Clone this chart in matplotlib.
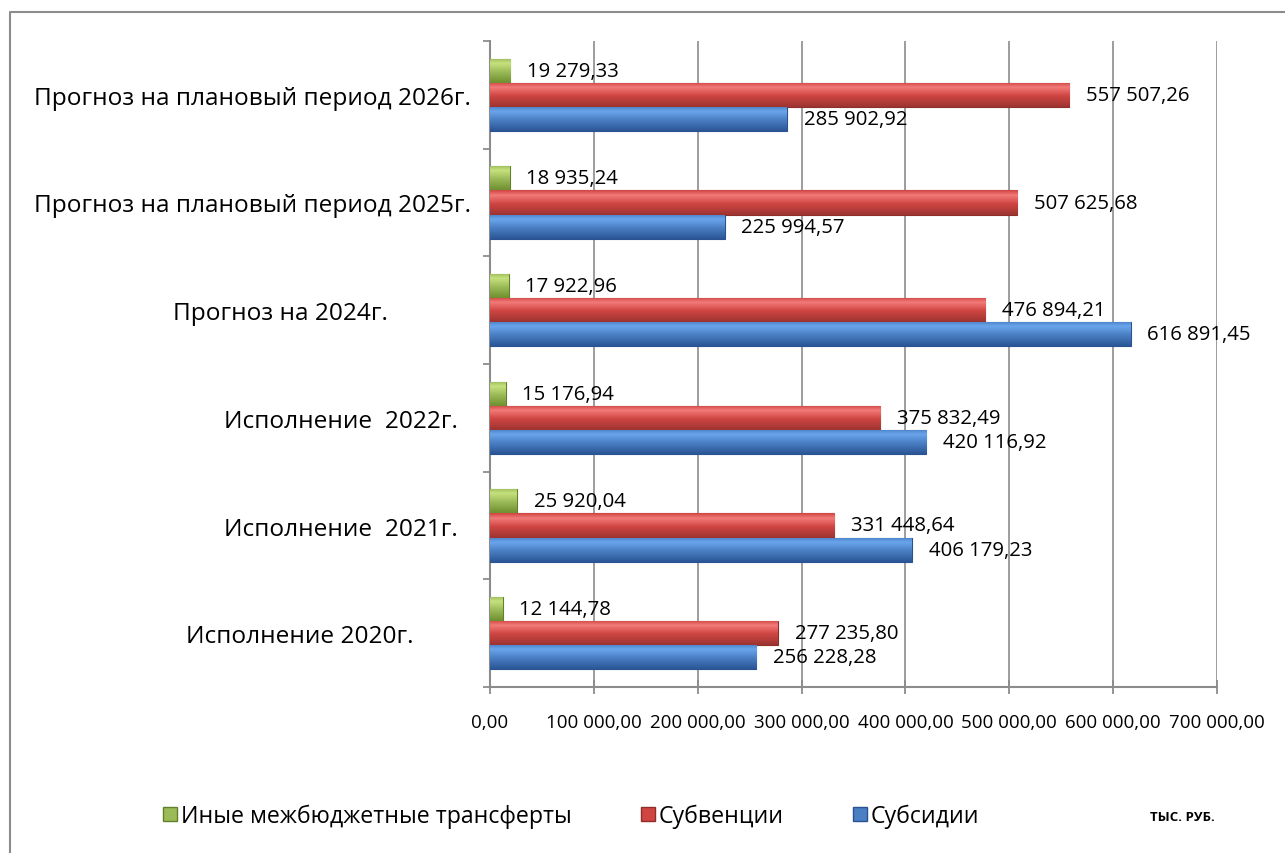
import numpy as np
import matplotlib
matplotlib.use("Agg")
import matplotlib.pyplot as plt
from matplotlib.colors import LinearSegmentedColormap
from matplotlib.patches import Patch
from matplotlib.lines import Line2D

plt.rcParams['font.family'] = ['Open Sans', 'DejaVu Sans']

categories = ["Исполнение 2020г.         ",
              "Исполнение  2021г.  ",
              "Исполнение  2022г.  ",
              "Прогноз на 2024г.             ",
              "Прогноз на плановый период 2025г.",
              "Прогноз на плановый период 2026г."]
subsidies = [256228.28, 406179.23, 420116.92, 616891.45, 225994.57, 285902.92]
subventions = [277235.80, 331448.64, 375832.49, 476894.21, 507625.68, 557507.26]
other = [12144.78, 25920.04, 15176.94, 17922.96, 18935.24, 19279.33]
series_names = ["Иные межбюджетные трансферты", "Субвенции", "Субсидии"]
xticks = [0, 100000, 200000, 300000, 400000, 500000, 600000, 700000]
unit_label = "ТЫС. РУБ."

def fmt(v):
    return "{:,.2f}".format(v).replace(",", " ").replace(".", ",")

fig = plt.figure(figsize=(12.85, 8.54), dpi=100)
ax = fig.add_axes([490/1285, 1-688/854, (1217-490)/1285, (688-42)/854])

y = np.arange(len(categories))
h = 0.223

styles = {
    "blue": ("#2b5696", "#4a7fc4", "#6aa6ec", "#2a5190"),
    "red": ("#9c3431", "#cf4542", "#f27b79", "#8e2e2b"),
    "green": ("#708f30", "#9bbb59", "#c6e27e", "#62802a"),
}

def draw(vals, offset, key):
    dark, base, light, edge = styles[key]
    bars = ax.barh(y + offset, vals, height=h, color=base, edgecolor=edge,
                   linewidth=0.8, zorder=3)
    cmap = LinearSegmentedColormap.from_list(key, [(0, dark), (0.45, base), (0.8, light), (1, base)])
    grad = np.linspace(0, 1, 64).reshape(-1, 1)
    for p in bars.patches:
        x0, y0 = p.get_xy()
        w, hh = p.get_width(), p.get_height()
        im = ax.imshow(grad, extent=[x0, x0 + w, y0, y0 + hh], aspect='auto',
                       cmap=cmap, origin='lower', zorder=3.5, interpolation='bilinear')
        im.set_clip_path(p)
    for v, yy in zip(vals, y + offset):
        ax.annotate(fmt(v), (v, yy), xytext=(12, 0), textcoords='offset points',
                    va='center', ha='left', fontsize=14.7, zorder=5)
    return bars

draw(subsidies, -h, "blue")
draw(subventions, 0, "red")
draw(other, h, "green")

ax.set_xlim(0, 700000)
ax.set_ylim(-0.5, len(categories) - 0.5)
ax.set_aspect('auto')

ax.set_xticks(xticks)
ax.set_xticklabels([fmt(t) for t in xticks], fontsize=13.5)
ax.set_yticks(y)
ax.set_yticklabels(categories, fontsize=17.6)
ax.set_yticks(np.arange(-0.5, len(categories), 1), minor=True)

ax.tick_params(axis='y', which='major', length=0, pad=14)
ax.tick_params(axis='y', which='minor', length=5, width=1.3, color='#8c8c8c', direction='out')
ax.tick_params(axis='x', which='major', length=10, width=1.3, color='#8c8c8c', direction='inout', pad=14)

ax.grid(axis='x', color='#8c8c8c', linewidth=1.2, zorder=0)
ax.set_axisbelow(True)
for s in ['top', 'right']:
    ax.spines[s].set_visible(False)
for s in ['left', 'bottom']:
    ax.spines[s].set_color('#8c8c8c')
    ax.spines[s].set_linewidth(1.5)

handles = [Patch(facecolor=styles["green"][1], edgecolor=styles["green"][3]),
           Patch(facecolor=styles["red"][1], edgecolor=styles["red"][3]),
           Patch(facecolor=styles["blue"][1], edgecolor=styles["blue"][3])]
fig.legend(handles, series_names, loc='center left', bbox_to_anchor=(154/1285, 1-817/854),
           ncol=3, frameon=False, fontsize=16.7, handlelength=0.6, handleheight=0.6,
           handletextpad=0.15, columnspacing=3.0, borderaxespad=0)

fig.text(1150/1285, 1-818/854, unit_label, fontsize=9.5, fontweight='bold', va='center', ha='left')

fig.add_artist(Line2D([10/1285, 10/1285, 1.0], [0, 1-13/854, 1-13/854],
                      transform=fig.transFigure, color='#8c8c8c', linewidth=1.5))

fig.savefig("out.png", dpi=100)
